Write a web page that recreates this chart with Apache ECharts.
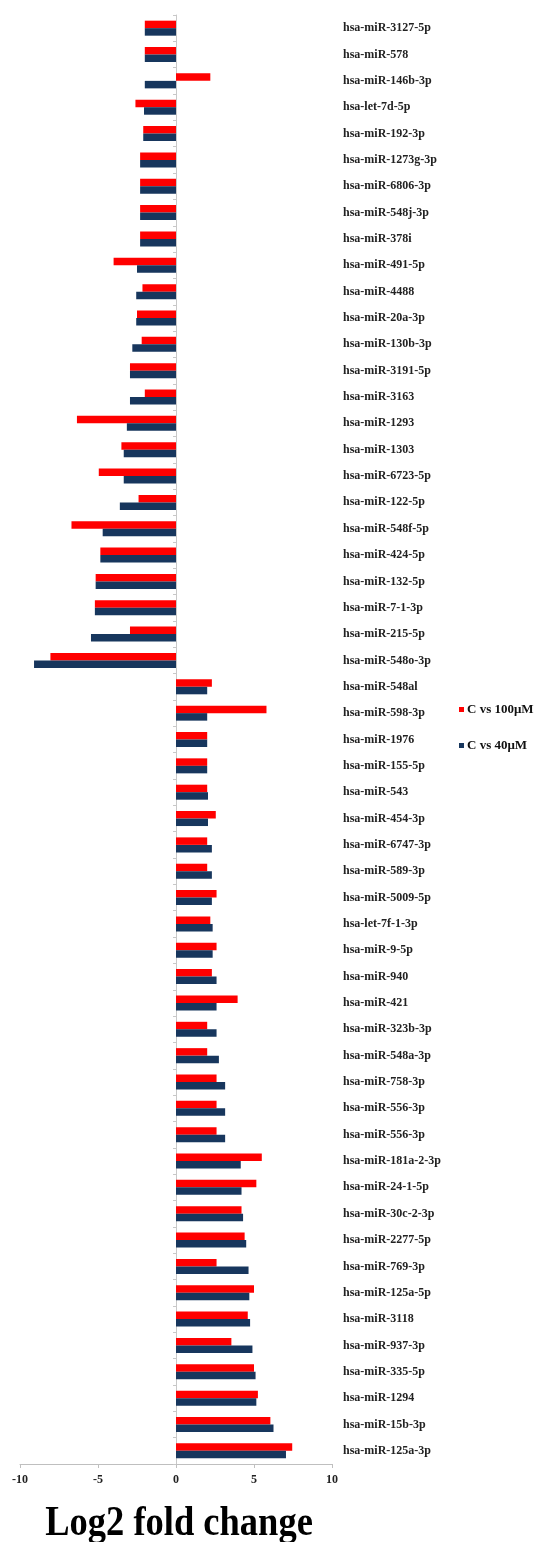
<!DOCTYPE html>
<html>
<head>
<meta charset="utf-8">
<script src="https://cdn.jsdelivr.net/npm/echarts@6/dist/echarts.min.js"></script>
<style>
  html, body { margin: 0; padding: 0; background: #ffffff; }
  #chart { width: 537px; height: 1542px; }
</style>
</head>
<body>
<div id="chart"></div>
<script>
// miRNAs, listed top to bottom
var mirnas = [
  'hsa-miR-3127-5p', 'hsa-miR-578', 'hsa-miR-146b-3p', 'hsa-let-7d-5p', 'hsa-miR-192-3p',
  'hsa-miR-1273g-3p', 'hsa-miR-6806-3p', 'hsa-miR-548j-3p', 'hsa-miR-378i', 'hsa-miR-491-5p',
  'hsa-miR-4488', 'hsa-miR-20a-3p', 'hsa-miR-130b-3p', 'hsa-miR-3191-5p', 'hsa-miR-3163',
  'hsa-miR-1293', 'hsa-miR-1303', 'hsa-miR-6723-5p', 'hsa-miR-122-5p', 'hsa-miR-548f-5p',
  'hsa-miR-424-5p', 'hsa-miR-132-5p', 'hsa-miR-7-1-3p', 'hsa-miR-215-5p', 'hsa-miR-548o-3p',
  'hsa-miR-548al', 'hsa-miR-598-3p', 'hsa-miR-1976', 'hsa-miR-155-5p', 'hsa-miR-543',
  'hsa-miR-454-3p', 'hsa-miR-6747-3p', 'hsa-miR-589-3p', 'hsa-miR-5009-5p', 'hsa-let-7f-1-3p',
  'hsa-miR-9-5p', 'hsa-miR-940', 'hsa-miR-421', 'hsa-miR-323b-3p', 'hsa-miR-548a-3p',
  'hsa-miR-758-3p', 'hsa-miR-556-3p', 'hsa-miR-556-3p', 'hsa-miR-181a-2-3p', 'hsa-miR-24-1-5p',
  'hsa-miR-30c-2-3p', 'hsa-miR-2277-5p', 'hsa-miR-769-3p', 'hsa-miR-125a-5p', 'hsa-miR-3118',
  'hsa-miR-937-3p', 'hsa-miR-335-5p', 'hsa-miR-1294', 'hsa-miR-15b-3p', 'hsa-miR-125a-3p'
];

// log2 fold change, control vs 100 µM
var fc100 = [
  -2.0, -2.0, 2.2, -2.6, -2.1,
  -2.3, -2.3, -2.3, -2.3, -4.0,
  -2.15, -2.5, -2.2, -2.95, -2.0,
  -6.35, -3.5, -4.95, -2.4, -6.7,
  -4.85, -5.15, -5.2, -2.95, -8.05,
  2.3, 5.8, 2.0, 2.0, 2.0,
  2.55, 2.0, 2.0, 2.6, 2.2,
  2.6, 2.3, 3.95, 2.0, 2.0,
  2.6, 2.6, 2.6, 5.5, 5.15,
  4.2, 4.4, 2.6, 5.0, 4.6,
  3.55, 5.0, 5.25, 6.05, 7.45
];

// log2 fold change, control vs 40 µM
var fc40 = [
  -2.0, -2.0, -2.0, -2.05, -2.1,
  -2.3, -2.3, -2.3, -2.3, -2.5,
  -2.55, -2.55, -2.8, -2.95, -2.95,
  -3.15, -3.35, -3.35, -3.6, -4.7,
  -4.85, -5.15, -5.2, -5.45, -9.1,
  2.0, 2.0, 2.0, 2.0, 2.05,
  2.05, 2.3, 2.3, 2.3, 2.35,
  2.35, 2.6, 2.6, 2.6, 2.75,
  3.15, 3.15, 3.15, 4.15, 4.2,
  4.3, 4.5, 4.65, 4.7, 4.75,
  4.9, 5.1, 5.15, 6.25, 7.05
];

var seriesNames = ['C vs 100\u03bcM', 'C vs 40\u03bcM'];
var xTicks = [-10, -5, 0, 5, 10];
var xTitle = 'Log2 fold change';

var serif = '"Liberation Serif", "Times New Roman", serif';
var chart = echarts.init(document.getElementById('chart'));

chart.setOption({
  animation: false,
  backgroundColor: '#ffffff',
  grid: { left: 20, right: 205, top: 15, bottom: 78, containLabel: false },
  legend: {
    orient: 'vertical',
    left: 454,
    top: 698,
    icon: 'rect',
    itemWidth: 5,
    itemHeight: 5,
    itemGap: 23,
    data: seriesNames,
    textStyle: { fontFamily: serif, fontWeight: 'bold', fontSize: 13, color: '#111111', padding: [0, 0, 0, -2] }
  },
  // axis title, set a little taller than wide
  graphic: [{
    type: 'text',
    x: 179,
    y: 1524,
    scaleY: 1.18,
    style: {
      text: xTitle,
      x: 0,
      y: 0,
      align: 'center',
      verticalAlign: 'middle',
      fontFamily: serif,
      fontWeight: 'bold',
      fontSize: 36.5,
      fill: '#000000'
    }
  }],
  xAxis: {
    type: 'value',
    min: xTicks[0],
    max: xTicks[xTicks.length - 1],
    interval: 5,
    axisLine: { show: true, lineStyle: { color: '#bfbfbf', width: 1 } },
    axisTick: { show: true, length: 4, lineStyle: { color: '#bfbfbf' } },
    axisLabel: { fontFamily: serif, fontWeight: 'bold', fontSize: 12, color: '#222222', margin: 10 },
    splitLine: { show: false }
  },
  yAxis: [
    {
      // axis line and ticks sitting on zero
      type: 'category',
      inverse: true,
      data: mirnas,
      axisLine: { show: true, onZero: true, lineStyle: { color: '#c8c8c8', width: 1 } },
      axisTick: { show: true, length: 3, lineStyle: { color: '#c8c8c8' } },
      axisLabel: { show: false },
      splitLine: { show: false }
    },
    {
      // miRNA names along the right edge
      type: 'category',
      inverse: true,
      position: 'right',
      data: mirnas,
      axisLine: { show: false },
      axisTick: { show: false },
      axisLabel: { show: true, margin: 11, fontFamily: serif, fontWeight: 'bold', fontSize: 12, color: '#222222', interval: 0 },
      splitLine: { show: false }
    }
  ],
  series: [
    {
      name: seriesNames[0],
      type: 'bar',
      yAxisIndex: 0,
      data: fc100,
      barWidth: 7.5,
      barGap: '0%',
      itemStyle: { color: '#ff0000' }
    },
    {
      name: seriesNames[1],
      type: 'bar',
      yAxisIndex: 0,
      data: fc40,
      barWidth: 7.5,
      barGap: '0%',
      itemStyle: { color: '#17365d' }
    }
  ]
});
</script>
</body>
</html>
